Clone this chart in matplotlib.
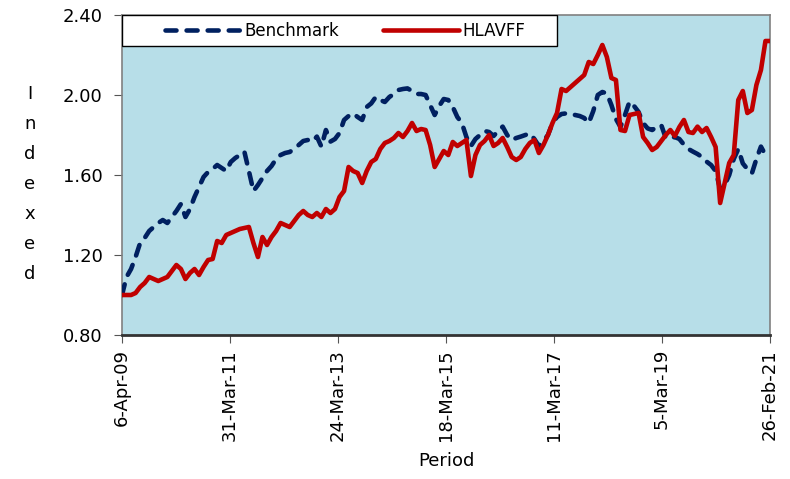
import numpy as np
import matplotlib
matplotlib.use("Agg")
import matplotlib.pyplot as plt
from matplotlib.patches import Rectangle

plt.rcParams['font.family'] = ['DejaVu Sans']

# monthly index values, Apr-2009 .. Feb-2021
hlavff = [1.00, 1.00, 1.00, 1.01, 1.04, 1.06, 1.09, 1.08, 1.07, 1.08,
          1.09, 1.12, 1.15, 1.13, 1.08, 1.11, 1.13, 1.10, 1.14, 1.175,
          1.18, 1.27, 1.26, 1.30, 1.31, 1.32, 1.33, 1.335, 1.34, 1.26,
          1.19, 1.29, 1.25, 1.29, 1.32, 1.36, 1.35, 1.34, 1.37, 1.40,
          1.42, 1.40, 1.39, 1.41, 1.39, 1.43, 1.41, 1.43, 1.49, 1.52,
          1.64, 1.62, 1.61, 1.56, 1.62, 1.665, 1.68, 1.73, 1.76, 1.77,
          1.785, 1.81, 1.79, 1.82, 1.86, 1.82, 1.83, 1.825, 1.75, 1.64,
          1.68, 1.72, 1.70, 1.765, 1.745, 1.76, 1.775, 1.595, 1.70, 1.75,
          1.77, 1.80, 1.745, 1.76, 1.785, 1.74, 1.69, 1.675, 1.69, 1.73,
          1.76, 1.775, 1.71, 1.75, 1.80, 1.86, 1.91, 2.03, 2.02, 2.04,
          2.06, 2.08, 2.10, 2.165, 2.155, 2.20, 2.25, 2.19, 2.085, 2.075,
          1.825, 1.82, 1.90, 1.905, 1.91, 1.79, 1.76, 1.725, 1.74, 1.77,
          1.80, 1.825, 1.795, 1.84, 1.875, 1.815, 1.81, 1.842, 1.815, 1.835,
          1.79, 1.74, 1.46, 1.56, 1.66, 1.70, 1.975, 2.02, 1.91, 1.925,
          2.05, 2.125, 2.27, 2.27]

benchmark = [1.00, 1.09, 1.13, 1.19, 1.26, 1.285, 1.32, 1.34, 1.36, 1.375,
             1.36, 1.39, 1.42, 1.455, 1.39, 1.43, 1.49, 1.54, 1.59, 1.615,
             1.63, 1.65, 1.635, 1.62, 1.665, 1.685, 1.70, 1.717, 1.62, 1.52,
             1.55, 1.585, 1.62, 1.645, 1.68, 1.70, 1.71, 1.715, 1.73, 1.75,
             1.77, 1.775, 1.767, 1.792, 1.742, 1.825, 1.767, 1.78, 1.81, 1.875,
             1.895, 1.908, 1.89, 1.875, 1.94, 1.958, 1.99, 1.975, 1.965, 1.99,
             2.005, 2.025, 2.03, 2.033, 2.02, 2.005, 2.005, 2.00, 1.95, 1.90,
             1.945, 1.98, 1.975, 1.94, 1.89, 1.86, 1.79, 1.745, 1.78, 1.80,
             1.82, 1.815, 1.795, 1.82, 1.842, 1.80, 1.775, 1.785, 1.792, 1.80,
             1.808, 1.78, 1.745, 1.77, 1.80, 1.86, 1.89, 1.905, 1.908, 1.905,
             1.90, 1.895, 1.885, 1.86, 1.92, 2.00, 2.015, 2.008, 1.95, 1.88,
             1.84, 1.90, 1.967, 1.945, 1.915, 1.86, 1.833, 1.825, 1.84, 1.85,
             1.785, 1.783, 1.79, 1.78, 1.752, 1.73, 1.717, 1.705, 1.69, 1.667,
             1.65, 1.62, 1.53, 1.55, 1.60, 1.68, 1.73, 1.658, 1.63, 1.608,
             1.68, 1.742, 1.70, 1.708]

tick_labels = ["6-Apr-09", "31-Mar-11", "24-Mar-13", "18-Mar-15",
               "11-Mar-17", "5-Mar-19", "26-Feb-21"]
y_ticks = [0.80, 1.20, 1.60, 2.00, 2.40]

x = np.arange(len(hlavff))

fig = plt.figure(figsize=(7.9, 4.79), dpi=100)
ax = fig.add_axes([122/790, 1 - 335/479, 648/790, 320/479])
ax.set_facecolor("#B7DEE8")

ax.plot(x, benchmark, color="#002060", lw=3.3, dashes=(2.4, 2.2),
        dash_capstyle="round", solid_capstyle="round", label="Benchmark", zorder=3)
ax.plot(x, hlavff, color="#C00000", lw=3.3, solid_capstyle="round",
        label="HLAVFF", zorder=4)

ax.set_xlim(0, len(x) - 1)
ax.set_ylim(0.80, 2.40)
ax.set_yticks(y_ticks)
ax.set_yticklabels(["%.2f" % v for v in y_ticks], fontsize=13)
ax.set_xticks(np.linspace(0, len(x) - 1, len(tick_labels)))
ax.set_xticklabels(tick_labels, rotation=90, fontsize=13)
ax.tick_params(axis="y", length=6, pad=8, color="#555555")
ax.tick_params(axis="x", length=6, pad=4, color="#555555")

for s in ["top", "right", "left"]:
    ax.spines[s].set_color("#808080")
    ax.spines[s].set_linewidth(1.2)
ax.spines["bottom"].set_color("#333333")
ax.spines["bottom"].set_linewidth(2.0)

# legend box
lh = 31/320
ax.add_patch(Rectangle((0, 1 - lh), 435/648, lh, transform=ax.transAxes,
                       facecolor="white", edgecolor="black", lw=1.0, zorder=5))
ax.legend(loc="center", bbox_to_anchor=(223/648, 1 - lh/2),
          ncol=2, frameon=False, fontsize=12, handlelength=4.6,
          handletextpad=0.2, columnspacing=2.6).set_zorder(6)

ax.set_xlabel("Period", fontsize=13, labelpad=8)
fig.text(30/790, 1 - 184/479, "I\nn\nd\ne\nx\ne\nd", fontsize=13,
         ha="center", va="center", linespacing=1.85)

fig.savefig("out.png", dpi=100)
